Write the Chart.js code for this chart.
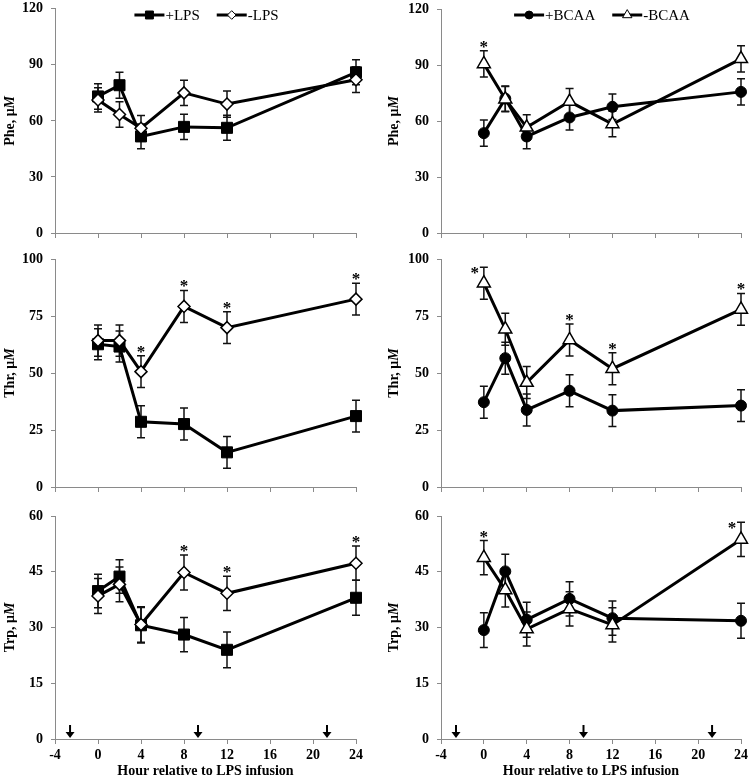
<!DOCTYPE html>
<html>
<head>
<meta charset="utf-8">
<script src="https://cdn.jsdelivr.net/npm/chart.js@4.4.1/dist/chart.umd.min.js"></script>
<style>
  body { margin: 0; background: #fff; width: 750px; height: 782px; position: relative; overflow: hidden; }
  .panel { position: absolute; }
</style>
</head>
<body>
<div class="panel" style="left:0;top:0;width:370px;height:245px"><canvas id="pheLps"></canvas></div>
<div class="panel" style="left:375px;top:0;width:375px;height:245px"><canvas id="pheBcaa"></canvas></div>
<div class="panel" style="left:0;top:245px;width:370px;height:252px"><canvas id="thrLps"></canvas></div>
<div class="panel" style="left:375px;top:245px;width:375px;height:252px"><canvas id="thrBcaa"></canvas></div>
<div class="panel" style="left:0;top:497px;width:370px;height:285px"><canvas id="trpLps"></canvas></div>
<div class="panel" style="left:375px;top:497px;width:375px;height:285px"><canvas id="trpBcaa"></canvas></div>
<script>
// sampling times (h relative to LPS infusion)
const hours = [0, 2, 4, 8, 12, 24];
// feeding arrows on the bottom panels
const arrowHours = [-2.6, 9.3, 21.3];

// Phe, uM
const pheLpsPlus = [73.1, 79.1, 51.7, 56.8, 56.3, 86.0];
const pheLpsPlusSe = [6.8, 7.0, 6.6, 6.7, 6.7, 6.7];
const pheLpsMinus = [71.2, 63.4, 56.1, 75.0, 69.0, 82.0];
const pheLpsMinusSe = [6.5, 6.8, 6.8, 6.8, 7.0, 6.8];
const pheLpsSig = [];
const pheBcaaPlus = [53.5, 72.0, 51.7, 61.9, 67.6, 75.6];
const pheBcaaPlusSe = [7.0, 6.8, 6.6, 6.7, 6.8, 7.0];
const pheBcaaMinus = [90.6, 71.7, 56.6, 70.4, 58.4, 93.3];
const pheBcaaMinusSe = [7.0, 6.8, 6.8, 7.0, 6.8, 7.0];
const pheBcaaSig = [0];

// Thr, uM
const thrLpsPlus = [62.6, 61.6, 28.6, 27.6, 15.2, 31.1];
const thrLpsPlusSe = [6.8, 6.8, 7.0, 7.0, 7.0, 7.0];
const thrLpsMinus = [64.2, 64.2, 50.6, 79.2, 69.9, 82.4];
const thrLpsMinusSe = [6.8, 6.8, 7.0, 7.0, 7.0, 7.0];
const thrLpsSig = [4, 8, 12, 24];
const thrBcaaPlus = [37.2, 56.5, 33.8, 42.2, 33.5, 35.7];
const thrBcaaPlusSe = [7.0, 7.0, 7.0, 7.0, 7.0, 7.0];
const thrBcaaMinus = [89.4, 69.2, 45.8, 64.5, 51.9, 77.9];
const thrBcaaMinusSe = [7.0, 7.0, 7.0, 7.0, 7.0, 7.0];
const thrBcaaSig = [0, 8, 12, 24];

// Trp, uM
const trpLpsPlus = [39.8, 43.7, 30.6, 28.1, 24.0, 38.0];
const trpLpsPlusSe = [4.5, 4.5, 4.8, 4.6, 4.8, 4.7];
const trpLpsMinus = [38.5, 41.6, 30.8, 44.8, 39.2, 47.3];
const trpLpsMinusSe = [4.7, 4.7, 4.8, 4.7, 4.6, 4.6];
const trpLpsSig = [8, 12, 24];
const trpBcaaPlus = [29.3, 45.1, 32.1, 37.7, 32.5, 31.8];
const trpBcaaPlusSe = [4.7, 4.6, 4.7, 4.6, 4.6, 4.7];
const trpBcaaMinus = [48.8, 40.1, 29.6, 35.0, 30.7, 53.7];
const trpBcaaMinusSe = [4.6, 4.6, 4.6, 4.6, 4.6, 4.6];
const trpBcaaSig = [0, 24];

const serif = "'Liberation Serif', 'Times New Roman', serif";
const axisGray = '#8a8a8a';

function drawMarker(ctx, style, x, y, r) {
  ctx.beginPath();
  if (style === 'rect') {
    const s = r * Math.SQRT1_2;
    ctx.rect(x - s, y - s, 2 * s, 2 * s);
  } else if (style === 'rectRot') {
    ctx.moveTo(x, y - r); ctx.lineTo(x + r, y); ctx.lineTo(x, y + r); ctx.lineTo(x - r, y);
    ctx.closePath();
  } else if (style === 'triangle') {
    ctx.moveTo(x, y - r);
    ctx.lineTo(x + r * 0.866, y + r * 0.5);
    ctx.lineTo(x - r * 0.866, y + r * 0.5);
    ctx.closePath();
  } else {
    ctx.arc(x, y, r, 0, Math.PI * 2);
  }
  ctx.fill();
  ctx.stroke();
}

// error bars, asterisks, arrows, y title and legend
function extras(spec) {
  return {
    id: 'extras',
    beforeDatasetsDraw(chart) {
      const ctx = chart.ctx, xs = chart.scales.x, ys = chart.scales.y;
      ctx.save();
      ctx.strokeStyle = '#111';
      ctx.lineWidth = 1.5;
      chart.data.datasets.forEach(ds => {
        ds.data.forEach((p, i) => {
          const x = xs.getPixelForValue(p.x);
          const y1 = ys.getPixelForValue(p.y + ds.se[i]);
          const y2 = ys.getPixelForValue(p.y - ds.se[i]);
          ctx.beginPath();
          ctx.moveTo(x, y1); ctx.lineTo(x, y2);
          ctx.moveTo(x - 4, y1); ctx.lineTo(x + 4, y1);
          ctx.moveTo(x - 4, y2); ctx.lineTo(x + 4, y2);
          ctx.stroke();
        });
      });
      ctx.restore();
    },
    afterDraw(chart) {
      const ctx = chart.ctx, xs = chart.scales.x, ys = chart.scales.y, ca = chart.chartArea;
      ctx.save();

      // significance marks above the "-" series
      const hi = chart.data.datasets[1];
      ctx.fillStyle = '#000';
      ctx.font = 'bold 17px ' + serif;
      ctx.textAlign = 'center';
      ctx.textBaseline = 'alphabetic';
      spec.sig.forEach(h => {
        const i = hours.indexOf(h);
        const x = xs.getPixelForValue(h);
        const cap = ys.getPixelForValue(hi.data[i].y + hi.se[i]);
        if (cap - 9 < ca.top + 6) ctx.fillText('*', x - 9, cap + 11);
        else ctx.fillText('*', x, cap + 1);
      });

      // arrows
      if (spec.arrows) {
        const y0 = ys.getPixelForValue(0);
        arrowHours.forEach(h => {
          const x = xs.getPixelForValue(h);
          ctx.strokeStyle = '#000';
          ctx.lineWidth = 2;
          ctx.beginPath(); ctx.moveTo(x, y0 - 14); ctx.lineTo(x, y0 - 6); ctx.stroke();
          ctx.beginPath();
          ctx.moveTo(x - 4.5, y0 - 7); ctx.lineTo(x + 4.5, y0 - 7); ctx.lineTo(x, y0 - 1);
          ctx.closePath(); ctx.fill();
        });
      }

      // y axis title with italic M
      ctx.translate(spec.titleX, (ca.top + ca.bottom) / 2);
      ctx.rotate(-Math.PI / 2);
      const a = spec.yTitle + ', \u03BC', b = 'M';
      ctx.font = 'bold 14px ' + serif;
      const wa = ctx.measureText(a).width;
      ctx.font = 'italic bold 14px ' + serif;
      const wb = ctx.measureText(b).width;
      ctx.textAlign = 'left';
      ctx.textBaseline = 'middle';
      ctx.font = 'bold 14px ' + serif;
      ctx.fillText(a, -(wa + wb) / 2, 0);
      ctx.font = 'italic bold 14px ' + serif;
      ctx.fillText(b, -(wa + wb) / 2 + wa, 0);
      ctx.restore();

      // legend inside the plot
      if (spec.legend) {
        ctx.save();
        ctx.font = '15px ' + serif;
        const iconW = 30, gap = 1, between = 17;
        const items = chart.data.datasets.map(ds => ({ ds, tw: ctx.measureText(ds.label).width }));
        const total = items.reduce((s, it) => s + iconW + gap + it.tw, 0) + between * (items.length - 1);
        let x = (ca.left + ca.right) / 2 + spec.legendShift - total / 2;
        const y = 15;
        items.forEach(it => {
          ctx.strokeStyle = '#000';
          ctx.lineWidth = 3;
          ctx.beginPath(); ctx.moveTo(x, y); ctx.lineTo(x + iconW, y); ctx.stroke();
          ctx.fillStyle = it.ds.pointBackgroundColor;
          ctx.lineWidth = 1;
          drawMarker(ctx, it.ds.pointStyle, x + iconW / 2, y, it.ds.pointRadius * 0.72);
          ctx.fillStyle = '#000';
          ctx.textAlign = 'left';
          ctx.textBaseline = 'middle';
          ctx.fillText(it.ds.label, x + iconW + gap, y + 1);
          x += iconW + gap + it.tw + between;
        });
        ctx.restore();
      }
    }
  };
}

function makePanel(id, spec) {
  const lps = spec.kind === 'lps';
  const tickFont = { family: serif, size: 14, weight: 'bold' };
  new Chart(document.getElementById(id), {
    type: 'line',
    data: {
      datasets: [
        {
          label: lps ? '+LPS' : '+BCAA',
          data: hours.map((h, i) => ({ x: h, y: spec.plus[i] })),
          se: spec.plusSe,
          borderColor: '#000',
          borderWidth: 3,
          pointStyle: lps ? 'rect' : 'circle',
          pointRadius: lps ? 7.8 : 5.5,
          pointBackgroundColor: '#000',
          pointBorderColor: '#000',
          pointBorderWidth: 1,
          clip: false,
          order: 1
        },
        {
          label: lps ? '-LPS' : '-BCAA',
          data: hours.map((h, i) => ({ x: h, y: spec.minus[i] })),
          se: spec.minusSe,
          borderColor: '#000',
          borderWidth: 3,
          pointStyle: lps ? 'rectRot' : 'triangle',
          pointRadius: lps ? 6 : 7.5,
          pointBackgroundColor: '#fff',
          pointBorderColor: '#000',
          pointBorderWidth: 1.5,
          clip: false,
          order: 0
        }
      ]
    },
    options: {
      responsive: true,
      maintainAspectRatio: false,
      animation: false,
      layout: { padding: { top: spec.padTop, right: spec.padRight, bottom: 0, left: 0 } },
      plugins: { legend: { display: false }, tooltip: { enabled: false } },
      scales: {
        x: {
          type: 'linear',
          min: -4,
          max: 24,
          ticks: { stepSize: 4, display: spec.xLabels, color: '#000', font: tickFont, padding: 3 },
          grid: { drawOnChartArea: false, tickLength: 5, color: axisGray },
          border: { color: axisGray },
          title: {
            display: spec.xLabels,
            text: 'Hour relative to LPS infusion',
            color: '#000',
            font: tickFont,
            padding: { top: 0, bottom: 2 }
          },
          afterFit: s => { s.height = spec.xHeight; s.paddingLeft = 0; s.paddingRight = 0; }
        },
        y: {
          min: 0,
          max: spec.yMax,
          ticks: { stepSize: spec.yStep, color: '#000', font: tickFont, padding: 8 },
          grid: { drawOnChartArea: false, tickLength: 4, color: axisGray },
          border: { color: axisGray },
          afterFit: s => { s.width = spec.yWidth; s.paddingTop = 0; s.paddingBottom = 0; }
        }
      }
    },
    plugins: [extras(spec)]
  });
}

const left = { yWidth: 55, padRight: 14, titleX: 10, legendShift: 1 };
const right = { yWidth: 66, padRight: 8, titleX: 19, legendShift: 11 };
const rowTop = { padTop: 7, xHeight: 12, yMax: 120, yStep: 30, yTitle: 'Phe', legend: true, xLabels: false, arrows: false };
const rowMid = { padTop: 14, xHeight: 10, yMax: 100, yStep: 25, yTitle: 'Thr', legend: false, xLabels: false, arrows: false };
const rowBot = { padTop: 19, xHeight: 43, yMax: 60, yStep: 15, yTitle: 'Trp', legend: false, xLabels: true, arrows: true };

makePanel('pheLps', { ...left, ...rowTop, kind: 'lps', plus: pheLpsPlus, plusSe: pheLpsPlusSe, minus: pheLpsMinus, minusSe: pheLpsMinusSe, sig: pheLpsSig });
makePanel('pheBcaa', { ...right, ...rowTop, kind: 'bcaa', plus: pheBcaaPlus, plusSe: pheBcaaPlusSe, minus: pheBcaaMinus, minusSe: pheBcaaMinusSe, sig: pheBcaaSig });
makePanel('thrLps', { ...left, ...rowMid, kind: 'lps', plus: thrLpsPlus, plusSe: thrLpsPlusSe, minus: thrLpsMinus, minusSe: thrLpsMinusSe, sig: thrLpsSig });
makePanel('thrBcaa', { ...right, ...rowMid, kind: 'bcaa', plus: thrBcaaPlus, plusSe: thrBcaaPlusSe, minus: thrBcaaMinus, minusSe: thrBcaaMinusSe, sig: thrBcaaSig });
makePanel('trpLps', { ...left, ...rowBot, kind: 'lps', plus: trpLpsPlus, plusSe: trpLpsPlusSe, minus: trpLpsMinus, minusSe: trpLpsMinusSe, sig: trpLpsSig });
makePanel('trpBcaa', { ...right, ...rowBot, kind: 'bcaa', plus: trpBcaaPlus, plusSe: trpBcaaPlusSe, minus: trpBcaaMinus, minusSe: trpBcaaMinusSe, sig: trpBcaaSig });
</script>
</body>
</html>
